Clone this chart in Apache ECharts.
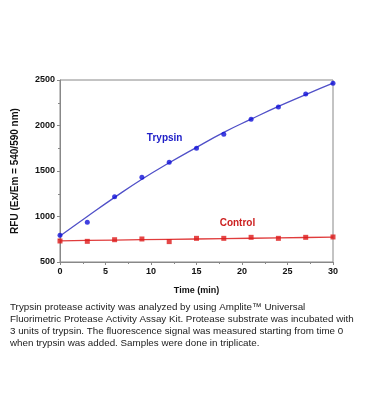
<!DOCTYPE html>
<html><head><meta charset="utf-8">
<script src="https://cdn.jsdelivr.net/npm/echarts@6/dist/echarts.min.js"></script>
<style>html,body{margin:0;padding:0;background:#fff}#c{width:369px;height:419px}</style>
</head><body><div id="c"></div>
<script>
var times = [0, 3, 6, 9, 12, 15, 18, 21, 24, 27, 30];
var trypsin = [795, 936, 1218, 1430, 1595, 1749, 1903, 2068, 2203, 2346, 2464];
var control = [731, 727, 745, 753, 724, 760, 760, 771, 760, 771, 775];
var trypsinFit = [785, 1000, 1210, 1410, 1590, 1760, 1925, 2070, 2210, 2340, 2465];
var controlFit = [733, 737, 741, 745, 749, 753, 757, 761, 765, 769, 773];
var captionLines = [
  "Trypsin protease activity was analyzed by using Amplite\u2122 Universal",
  "Fluorimetric Protease Activity Assay Kit. Protease substrate was incubated with",
  "3 units of trypsin. The fluorescence signal was measured starting from time 0",
  "when trypsin was added. Samples were done in triplicate."
];
function pairs(xs, ys){ return xs.map(function(x,i){return [x, ys[i]];}); }
var blue = '#1010d8', blueLine = '#5050c8', red = '#dd1a1a', redLine = '#e03c3c';
var font = 'Arial, "Liberation Sans", sans-serif';
var chart = echarts.init(document.getElementById('c'));
chart.setOption({
  animation: false,
  grid: {left: 60, right: 36, top: 80, bottom: 157, show: true, borderColor: '#888', borderWidth: 1},
  xAxis: {type: 'value', min: 0, max: 30, interval: 5,
    name: 'Time (min)', nameLocation: 'middle', nameGap: 24,
    nameTextStyle: {fontFamily: font, fontWeight: 'bold', fontSize: 9, color: '#111'},
    axisLine: {lineStyle: {color: '#888'}}, splitLine: {show: false},
    axisTick: {inside: false, length: 3, lineStyle: {color: '#888'}},
    minorTick: {show: true, splitNumber: 2, length: 2, lineStyle: {color: '#888'}},
    axisLabel: {fontFamily: font, fontWeight: 'bold', fontSize: 9, color: '#111', margin: 5,
      formatter: function(v){ return String(v); }}},
  yAxis: {type: 'value', min: 500, max: 2500, interval: 500,
    name: 'RFU (Ex/Em = 540/590 nm)', nameLocation: 'middle', nameGap: 40,
    nameTextStyle: {fontFamily: font, fontWeight: 'bold', fontSize: 10, color: '#111'},
    axisLine: {show: true, lineStyle: {color: '#888'}}, splitLine: {show: false},
    axisTick: {show: true, inside: false, length: 3, lineStyle: {color: '#888'}},
    minorTick: {show: true, splitNumber: 2, length: 2, lineStyle: {color: '#888'}},
    axisLabel: {fontFamily: font, fontWeight: 'bold', fontSize: 9, color: '#111', margin: 5,
      formatter: function(v){ return String(v); }}},
  series: [
    {type: 'line', data: pairs(times, trypsinFit), smooth: true, showSymbol: false,
      lineStyle: {color: blueLine, width: 1.3}, z: 2,
      markPoint: {symbol: 'circle', symbolSize: 0, data: [{coord: [11.5, 1865]}],
        label: {show: true, formatter: 'Trypsin', color: '#2020c8', fontFamily: font, fontWeight: 'bold', fontSize: 10}}},
    {type: 'line', data: pairs(times, controlFit), showSymbol: false,
      lineStyle: {color: redLine, width: 1.3}, z: 2,
      markPoint: {symbol: 'circle', symbolSize: 0, data: [{coord: [19.5, 930]}],
        label: {show: true, formatter: 'Control', color: '#cc2020', fontFamily: font, fontWeight: 'bold', fontSize: 10}}},
    {type: 'scatter', data: pairs(times, trypsin), symbol: 'circle', symbolSize: 5,
      itemStyle: {color: blue}, z: 3},
    {type: 'scatter', data: pairs(times, control), symbol: 'rect', symbolSize: 5,
      itemStyle: {color: red}, z: 3}
  ],
  graphic: [{type: 'text', left: 10, top: 301,
    style: {text: captionLines.join('\n'), fontFamily: font,
      fontSize: 9.8, lineHeight: 12.2, fill: '#222'}}]
});
</script></body></html>
